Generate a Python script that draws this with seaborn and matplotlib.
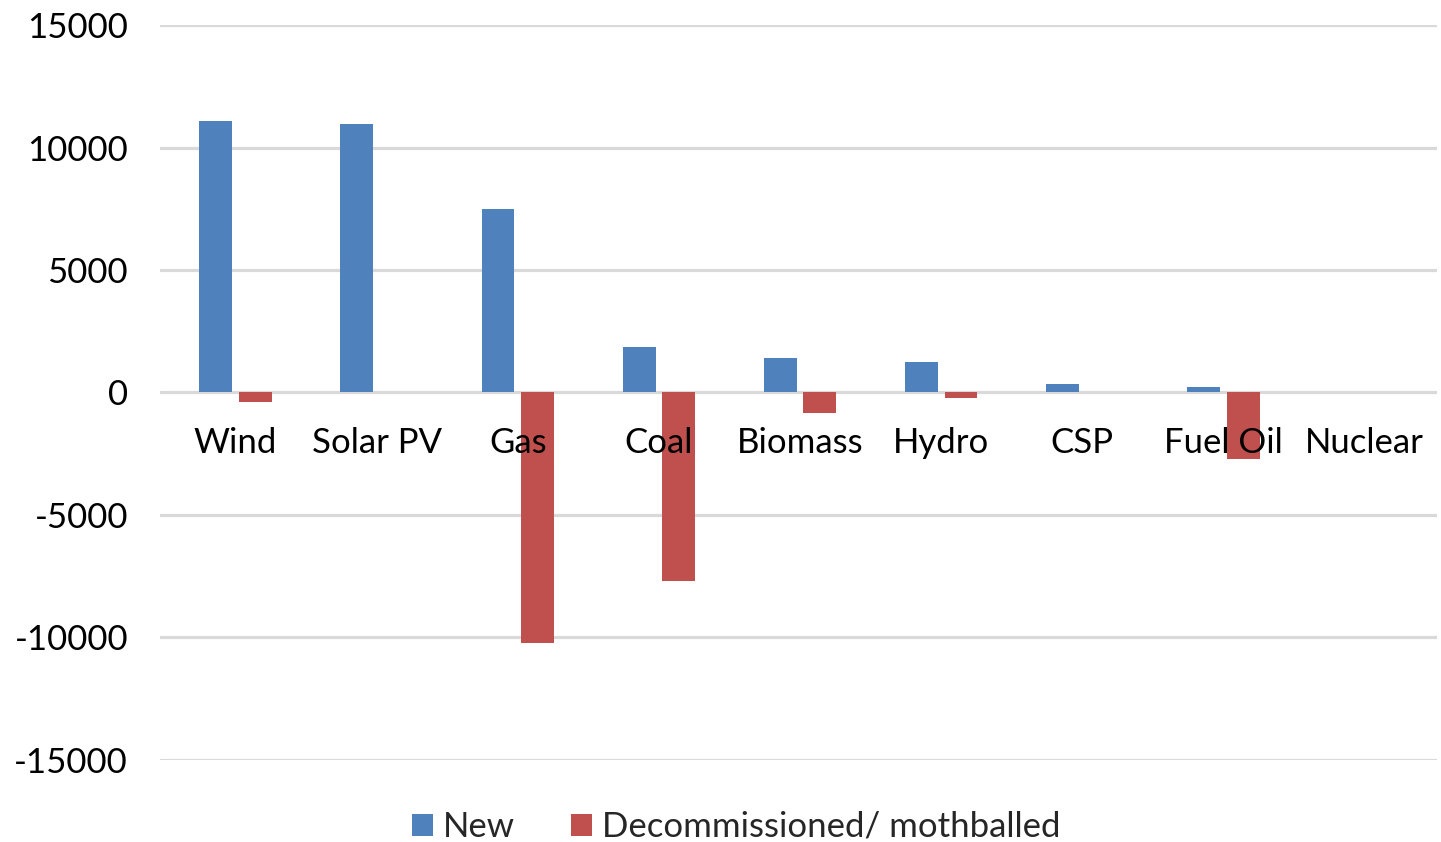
import matplotlib
matplotlib.use("Agg")
import matplotlib.pyplot as plt
from matplotlib.patches import Patch
import pandas as pd
import seaborn as sns

# Capacity change by technology (MW)
sources = ["Wind", "Solar PV", "Gas", "Coal", "Biomass", "Hydro", "CSP", "Fuel Oil", "Nuclear"]
new_mw = [11100, 10950, 7500, 1870, 1420, 1250, 350, 240, 0]
decommissioned_mw = [-380, 0, -10230, -7690, -820, -210, 0, -2730, 0]
series_names = ["New", "Decommissioned/ mothballed"]
y_ticks = [-15000, -10000, -5000, 0, 5000, 10000, 15000]
y_tick_labels = ["-15000", "-10000", "-5000", "0", "5000", "10000", "15000"]

colors = ["#4F81BD", "#C0504D"]

df = pd.DataFrame({
    "Source": sources * 2,
    "MW": new_mw + decommissioned_mw,
    "Type": [series_names[0]] * len(sources) + [series_names[1]] * len(sources),
})

sns.set_theme(style="white")
plt.rcParams["font.family"] = ["Lato", "DejaVu Sans"]

fig = plt.figure(figsize=(14.41, 8.42), dpi=100)
ax = fig.add_axes([0.111, 0.0974, 0.8862, 0.8729])

sns.barplot(data=df, x="Source", y="MW", hue="Type", order=sources,
            hue_order=series_names, palette=colors, width=0.56, gap=0.17,
            saturation=1, linewidth=0, edgecolor="none", ax=ax, legend=False)

ax.set_ylim(-15000, 15000)
ax.set_xlim(-0.535, 8.513)
ax.set_yticks(y_ticks)
ax.set_yticklabels(y_tick_labels)
ax.set_xlabel("")
ax.set_ylabel("")

# horizontal gridlines sit under the bars; category labels stay on top
ax.grid(False)
ax.set_axisbelow(False)
for yv in y_ticks:
    ax.axhline(yv, color="#d9d9d9", linewidth=2.3, zorder=0)

for side in ["top", "right", "left"]:
    ax.spines[side].set_visible(False)
ax.spines["bottom"].set_position(("data", 0))
ax.spines["bottom"].set_visible(False)

ax.tick_params(axis="x", length=0, pad=25, labelsize=25, colors="black")
ax.tick_params(axis="y", length=0, pad=23, labelsize=25, colors="black")

handles = [Patch(facecolor=c, edgecolor="none") for c in colors]
fig.legend(handles, series_names, loc="center", bbox_to_anchor=(0.511, 0.018),
           ncol=2, frameon=False, fontsize=25, handlelength=0.6, handleheight=0.6,
           handletextpad=0.3, columnspacing=1.6)

fig.savefig("out.png", dpi=100, facecolor="white")
